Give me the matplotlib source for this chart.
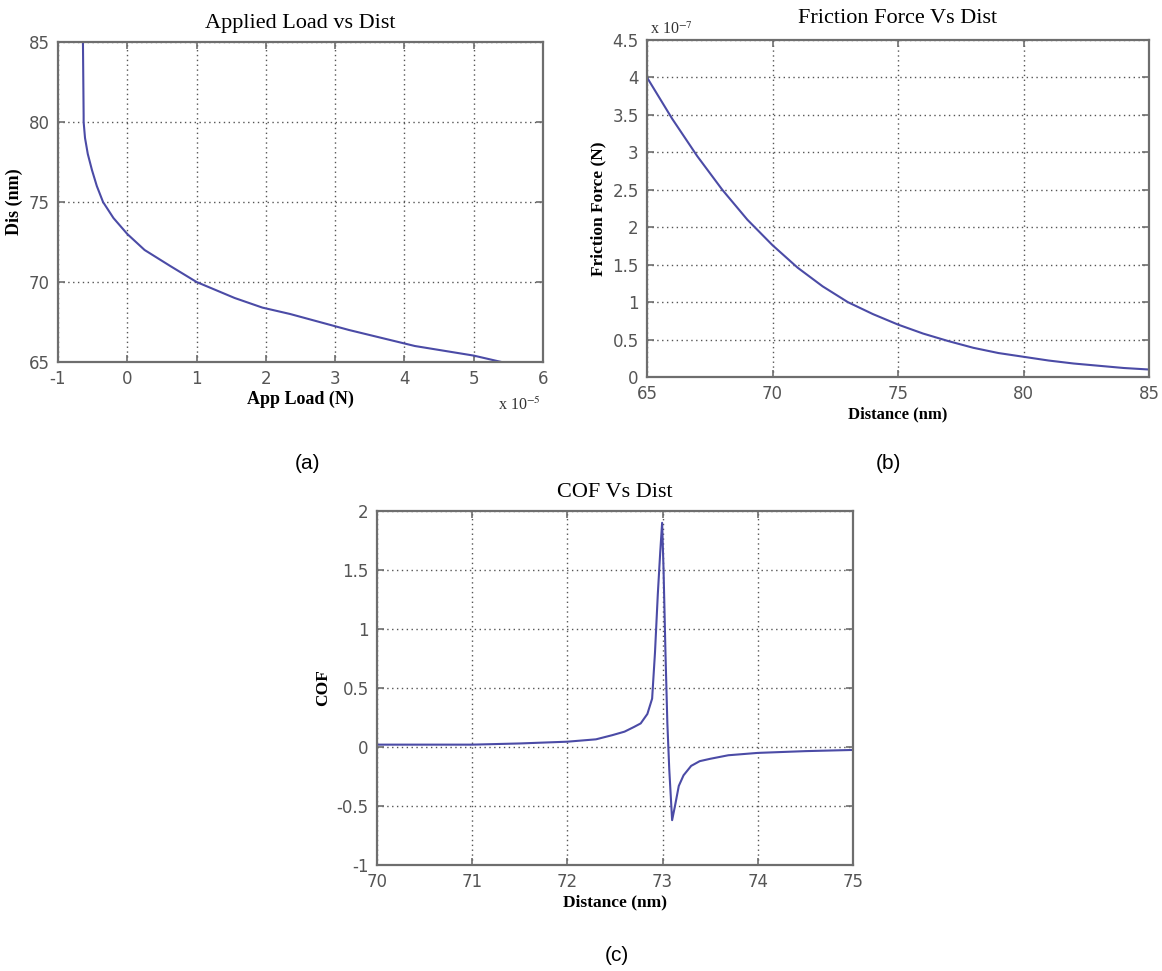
import matplotlib
matplotlib.use("Agg")
import matplotlib.pyplot as plt

plt.rcParams['axes.unicode_minus'] = False
plt.rcParams['mathtext.fontset'] = 'stix'

# ---------------- data ----------------
# (a) Applied load (x 1e-5 N) vs distance (nm)
load_e5 = [-0.64, -0.63, -0.63, -0.61, -0.57, -0.51, -0.44, -0.35, -0.20, -0.10, 0.0,
           0.25, 0.62, 1.0, 1.55, 1.95, 2.35, 3.2, 4.15, 5.0, 5.4]
dis_a = [85.0, 80.4, 80.0, 79.0, 78.0, 77.0, 76.0, 75.0, 74.0, 73.5, 73.0,
         72.0, 71.0, 70.0, 69.0, 68.4, 68.0, 67.0, 66.0, 65.4, 65.0]

# (b) Friction force (x 1e-7 N) vs distance (nm)
dist_b = [65, 66, 67, 68, 69, 70, 71, 72, 73, 74, 75, 76, 77, 78, 79, 80, 81, 82, 83, 84, 85]
friction_e7 = [4.0, 3.45, 2.95, 2.5, 2.1, 1.76, 1.46, 1.21, 1.0, 0.84, 0.70, 0.58,
               0.48, 0.39, 0.32, 0.27, 0.22, 0.18, 0.15, 0.12, 0.10]

# (c) COF vs distance (nm)
dist_c = [70.0, 70.5, 71.0, 71.5, 72.0, 72.3, 72.47, 72.6, 72.7, 72.77, 72.84, 72.89,
          72.92, 72.95, 72.975, 72.995, 73.01, 73.03, 73.05, 73.07, 73.10, 73.13, 73.17,
          73.22, 73.3, 73.39, 73.5, 73.69, 74.0, 74.5, 75.0]
cof = [0.02, 0.02, 0.02, 0.03, 0.045, 0.065, 0.10, 0.13, 0.17, 0.20, 0.28, 0.41,
       0.8, 1.3, 1.65, 1.90, 1.5, 0.8, 0.2, -0.19, -0.62, -0.50, -0.33,
       -0.24, -0.16, -0.12, -0.10, -0.07, -0.05, -0.035, -0.025]

xt_a = [-1, 0, 1, 2, 3, 4, 5, 6]
yt_a = [65, 70, 75, 80, 85]
xt_b = [65, 70, 75, 80, 85]
yt_b = [0, 0.5, 1, 1.5, 2, 2.5, 3, 3.5, 4, 4.5]
yt_b_lbl = ['0', '0.5', '1', '1.5', '2', '2.5', '3', '3.5', '4', '4.5']
xt_c = [70, 71, 72, 73, 74, 75]
yt_c = [-1, -0.5, 0, 0.5, 1, 1.5, 2]
yt_c_lbl = ['-1', '-0.5', '0', '0.5', '1', '1.5', '2']

# ---------------- style ----------------
LINE = '#4b4ba6'
SPINE = '#6e6e6e'
TICKC = '#555555'
SERIF = 'Liberation Serif'
SANS = 'DejaVu Sans'
W, H = 1162, 971

fig = plt.figure(figsize=(W / 100, H / 100), dpi=100)


def box(l, t, r, b):
    return [l / W, 1 - b / H, (r - l) / W, (b - t) / H]


def style(ax):
    for s in ax.spines.values():
        s.set_color(SPINE)
        s.set_linewidth(1.6)
    ax.tick_params(direction='in', top=True, right=True, length=5, width=1.2,
                   color=SPINE, labelcolor=TICKC, labelsize=12, pad=6)
    for lab in ax.get_xticklabels() + ax.get_yticklabels():
        lab.set_family(SANS)
    ax.grid(True, linestyle=(0, (1, 2.5)), color='#555555', linewidth=1.0)
    ax.set_axisbelow(True)


# (a)
ax1 = fig.add_axes(box(58, 42, 543, 362))
ax1.plot(load_e5, dis_a, color=LINE, lw=1.5)
ax1.set_xlim(-1, 6)
ax1.set_ylim(65, 85)
ax1.set_xticks(xt_a)
ax1.set_xticklabels([str(v) for v in xt_a])
ax1.set_yticks(yt_a)
ax1.set_yticklabels([str(v) for v in yt_a])
style(ax1)
ax1.set_title('Applied Load vs Dist', family=SERIF, fontsize=16, pad=10)
ax1.set_xlabel('App Load (N)', family=SERIF, fontsize=13, fontweight='bold', labelpad=2)
ax1.set_ylabel('Dis (nm)', family=SERIF, fontsize=13, fontweight='bold', labelpad=4)
fig.text(498 / W, 1 - 410 / H, r'x 10$^{-5}$', family=SERIF, fontsize=11.5, color='#333333')

# (b)
ax2 = fig.add_axes(box(647, 40, 1149, 377))
ax2.plot(dist_b, friction_e7, color=LINE, lw=1.5)
ax2.set_xlim(65, 85)
ax2.set_ylim(0, 4.5)
ax2.set_xticks(xt_b)
ax2.set_xticklabels([str(v) for v in xt_b])
ax2.set_yticks(yt_b)
ax2.set_yticklabels(yt_b_lbl)
style(ax2)
ax2.set_title('Friction Force Vs Dist', family=SERIF, fontsize=16, pad=12)
ax2.set_xlabel('Distance (nm)', family=SERIF, fontsize=12, fontweight='bold', labelpad=2)
ax2.set_ylabel('Friction Force (N)', family=SERIF, fontsize=12.5, fontweight='bold', labelpad=4)
fig.text(650 / W, 1 - 34 / H, r'x 10$^{-7}$', family=SERIF, fontsize=11.5, color='#333333')

# (c)
ax3 = fig.add_axes(box(377, 511, 853, 865))
ax3.plot(dist_c, cof, color=LINE, lw=1.5)
ax3.set_xlim(70, 75)
ax3.set_ylim(-1, 2)
ax3.set_xticks(xt_c)
ax3.set_xticklabels([str(v) for v in xt_c])
ax3.set_yticks(yt_c)
ax3.set_yticklabels(yt_c_lbl)
style(ax3)
ax3.set_title('COF Vs Dist', family=SERIF, fontsize=16, pad=10)
ax3.set_xlabel('Distance (nm)', family=SERIF, fontsize=12.5, fontweight='bold', labelpad=2)
ax3.set_ylabel('COF', family=SERIF, fontsize=12.5, fontweight='bold', labelpad=4)

# panel labels
fig.text(307 / W, 1 - 463 / H, '(a)', family='Liberation Sans', fontsize=15, ha='center', va='center')
fig.text(888 / W, 1 - 463 / H, '(b)', family='Liberation Sans', fontsize=15, ha='center', va='center')
fig.text(617 / W, 1 - 955 / H, '(c)', family='Liberation Sans', fontsize=15, ha='center', va='center')

fig.savefig('out.png', dpi=100)
